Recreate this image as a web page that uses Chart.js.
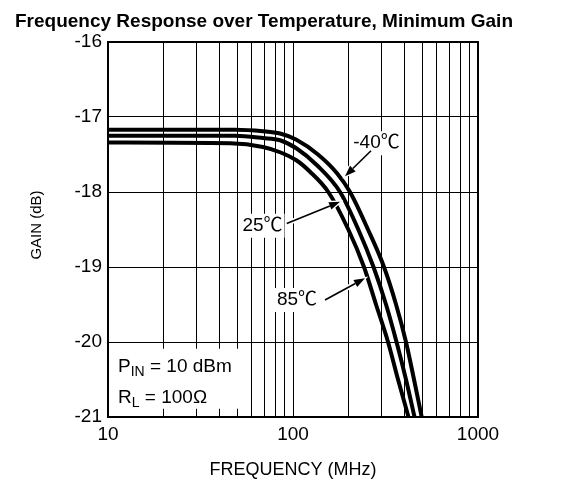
<!DOCTYPE html>
<html>
<head>
<meta charset="utf-8">
<script src="https://cdn.jsdelivr.net/npm/chart.js@4.4.1/dist/chart.umd.min.js"></script>
<style>
  html, body { margin: 0; padding: 0; background: #fff; }
  canvas { display: block; }
</style>
</head>
<body>
<canvas id="gainChart" width="574" height="481"></canvas>
<script>
const FONT = '"Liberation Sans", Arial, "Noto Sans CJK SC", sans-serif';

// curves (MHz, dB)
const freqM40 = [10, 48.6, 68.8, 85.1, 103.8, 136.5, 172.9, 203.3, 254.3, 310.4, 360.6, 408.1, 451.0, 496.2];
const gainM40 = [-17.17, -17.17, -17.19, -17.22, -17.30, -17.50, -17.75, -18.00, -18.50, -19.00, -19.50, -20.00, -20.50, -21.00];

const freq25 = [10, 48.6, 68.8, 85.1, 104.7, 134.3, 179.6, 225.4, 272.4, 318.3, 362.8, 408.1, 453.8];
const gain25 = [-17.25, -17.25, -17.28, -17.31, -17.42, -17.64, -18.00, -18.50, -19.00, -19.50, -20.00, -20.50, -21.00];

const freq85 = [10, 45.7, 68.8, 85.1, 104.7, 123.6, 155.2, 199.1, 242.0, 281.0, 326.3, 369.6, 421.0];
const gain85 = [-17.34, -17.35, -17.40, -17.47, -17.58, -17.73, -18.00, -18.50, -19.00, -19.50, -20.00, -20.50, -21.00];

const xTicks = [10, 20, 30, 40, 50, 60, 70, 80, 90, 100, 200, 300, 400, 500, 600, 700, 800, 900, 1000];
const xLabels = [10, 100, 1000];
const yTicks = [-21, -20, -19, -18, -17, -16];

const tempNames = ['-40\u2103', '25\u2103', '85\u2103'];

// annotation placement, in axis units
const notes = {
    label: [[282.7, -17.35], [68.4, -18.45], [105.1, -19.44]],
    from:  [[264, -17.45], [92.5, -18.42], [148.9, -19.44]],
    to:    [[191, -17.79], [179.6, -18.13], [245, -19.15]],
    box:   [[10.25, -20.09], [50.5, -20.89]],
    pin:   [11.33, -20.40],
    rl:    [11.33, -20.81]
};

const toPoints = (fs, gs) => fs.map((f, i) => ({ x: f, y: gs[i] }));

function drawArrow(ctx, x0, y0, x1, y1) {
    const ang = Math.atan2(y1 - y0, x1 - x0);
    const len = 11, half = 4;
    const bx = x1 - len * Math.cos(ang), by = y1 - len * Math.sin(ang);
    const nx = -Math.sin(ang) * half, ny = Math.cos(ang) * half;
    const head = () => {
        ctx.beginPath();
        ctx.moveTo(x1, y1);
        ctx.lineTo(bx + nx, by + ny);
        ctx.lineTo(bx - nx, by - ny);
        ctx.closePath();
    };
    // white halo so the arrow cuts through the curve it crosses
    ctx.strokeStyle = '#fff';
    ctx.lineWidth = 5;
    ctx.beginPath(); ctx.moveTo(x0, y0); ctx.lineTo(bx, by); ctx.stroke();
    ctx.lineWidth = 2.5;
    head(); ctx.stroke();
    ctx.strokeStyle = '#000';
    ctx.fillStyle = '#000';
    ctx.lineWidth = 1.6;
    ctx.beginPath(); ctx.moveTo(x0, y0); ctx.lineTo(bx, by); ctx.stroke();
    head(); ctx.fill();
}

function subText(ctx, x, y, main, sub, rest) {
    ctx.font = '19px ' + FONT;
    ctx.fillText(main, x, y);
    x += ctx.measureText(main).width;
    ctx.font = '14px ' + FONT;
    ctx.fillText(sub, x, y + 4);
    x += ctx.measureText(sub).width;
    ctx.font = '19px ' + FONT;
    ctx.fillText(rest, x, y);
}

const overlay = {
    id: 'overlay',
    afterDatasetsDraw(chart) {
        const { ctx, scales: { x, y } } = chart;
        const px = f => x.getPixelForValue(f);
        const py = g => y.getPixelForValue(g);
        ctx.save();

        // temperature labels + arrows
        ctx.font = '19px ' + FONT;
        ctx.textAlign = 'center';
        ctx.textBaseline = 'middle';
        tempNames.forEach((t, i) => {
            const cx = px(notes.label[i][0]), cy = py(notes.label[i][1]);
            const w = ctx.measureText(t).width;
            ctx.fillStyle = '#fff';
            ctx.fillRect(cx - w / 2 - 2, cy - 12, w + 4, 24);
        });
        tempNames.forEach((t, i) => {
            drawArrow(ctx, px(notes.from[i][0]), py(notes.from[i][1]), px(notes.to[i][0]), py(notes.to[i][1]));
        });
        ctx.font = '19px ' + FONT;
        ctx.textAlign = 'center';
        ctx.textBaseline = 'middle';
        ctx.fillStyle = '#000';
        tempNames.forEach((t, i) => {
            ctx.fillText(t, px(notes.label[i][0]), py(notes.label[i][1]));
        });

        // conditions box
        const bx0 = px(notes.box[0][0]), by0 = py(notes.box[0][1]);
        const bx1 = px(notes.box[1][0]), by1 = py(notes.box[1][1]);
        ctx.fillStyle = '#fff';
        ctx.fillRect(bx0, by0, bx1 - bx0, by1 - by0);
        ctx.fillStyle = '#000';
        ctx.textAlign = 'left';
        ctx.textBaseline = 'alphabetic';
        subText(ctx, px(notes.pin[0]), py(notes.pin[1]), 'P', 'IN', ' = 10 dBm');
        subText(ctx, px(notes.rl[0]), py(notes.rl[1]), 'R', 'L', ' = 100\u03A9');

        ctx.restore();
    },
    afterDraw(chart) {
        const { ctx, chartArea: a } = chart;
        ctx.save();
        ctx.strokeStyle = '#000';
        ctx.lineWidth = 2;
        ctx.strokeRect(a.left, a.top, a.right - a.left, a.bottom - a.top);

        ctx.fillStyle = '#000';
        ctx.textAlign = 'center';
        ctx.textBaseline = 'alphabetic';
        ctx.font = 'bold 19px ' + FONT;
        ctx.fillText('Frequency Response over Temperature, Minimum Gain', 264, 27);

        ctx.font = '18px ' + FONT;
        ctx.fillText('FREQUENCY (MHz)', (a.left + a.right) / 2, 475);

        ctx.translate(36.5, 225);
        ctx.rotate(-Math.PI / 2);
        ctx.font = '15px ' + FONT;
        ctx.textBaseline = 'middle';
        ctx.fillText('GAIN (dB)', 0, 0);
        ctx.restore();
    }
};

const lineStyle = {
    borderColor: '#000',
    borderWidth: 4,
    pointRadius: 0,
    cubicInterpolationMode: 'monotone',
    fill: false,
    clip: 0
};

new Chart(document.getElementById('gainChart'), {
    type: 'line',
    data: {
        datasets: [
            { label: '-40', data: toPoints(freqM40, gainM40), ...lineStyle },
            { label: '25', data: toPoints(freq25, gain25), ...lineStyle },
            { label: '85', data: toPoints(freq85, gain85), ...lineStyle }
        ]
    },
    options: {
        responsive: false,
        animation: false,
        devicePixelRatio: 1,
        layout: { padding: { top: 42, right: 96, left: 0, bottom: 0 } },
        plugins: {
            legend: { display: false },
            tooltip: { enabled: false },
            title: { display: false }
        },
        scales: {
            x: {
                type: 'logarithmic',
                min: 10,
                max: 1000,
                afterBuildTicks: s => { s.ticks = xTicks.map(v => ({ value: v })); },
                afterFit: s => { s.height = 64; },
                grid: { color: '#000', lineWidth: 1, drawTicks: false },
                border: { display: false },
                ticks: {
                    autoSkip: false,
                    maxRotation: 0,
                    padding: 6,
                    color: '#000',
                    font: { family: FONT, size: 19 },
                    callback: v => xLabels.includes(v) ? String(v) : ''
                }
            },
            y: {
                min: -21,
                max: -16,
                afterBuildTicks: s => { s.ticks = yTicks.map(v => ({ value: v })); },
                afterFit: s => { s.width = 108; },
                grid: { color: '#000', lineWidth: 1, drawTicks: false },
                border: { display: false },
                ticks: {
                    padding: 6,
                    color: '#000',
                    font: { family: FONT, size: 19 },
                    callback: v => String(v)
                }
            }
        }
    },
    plugins: [overlay]
});
</script>
</body>
</html>
